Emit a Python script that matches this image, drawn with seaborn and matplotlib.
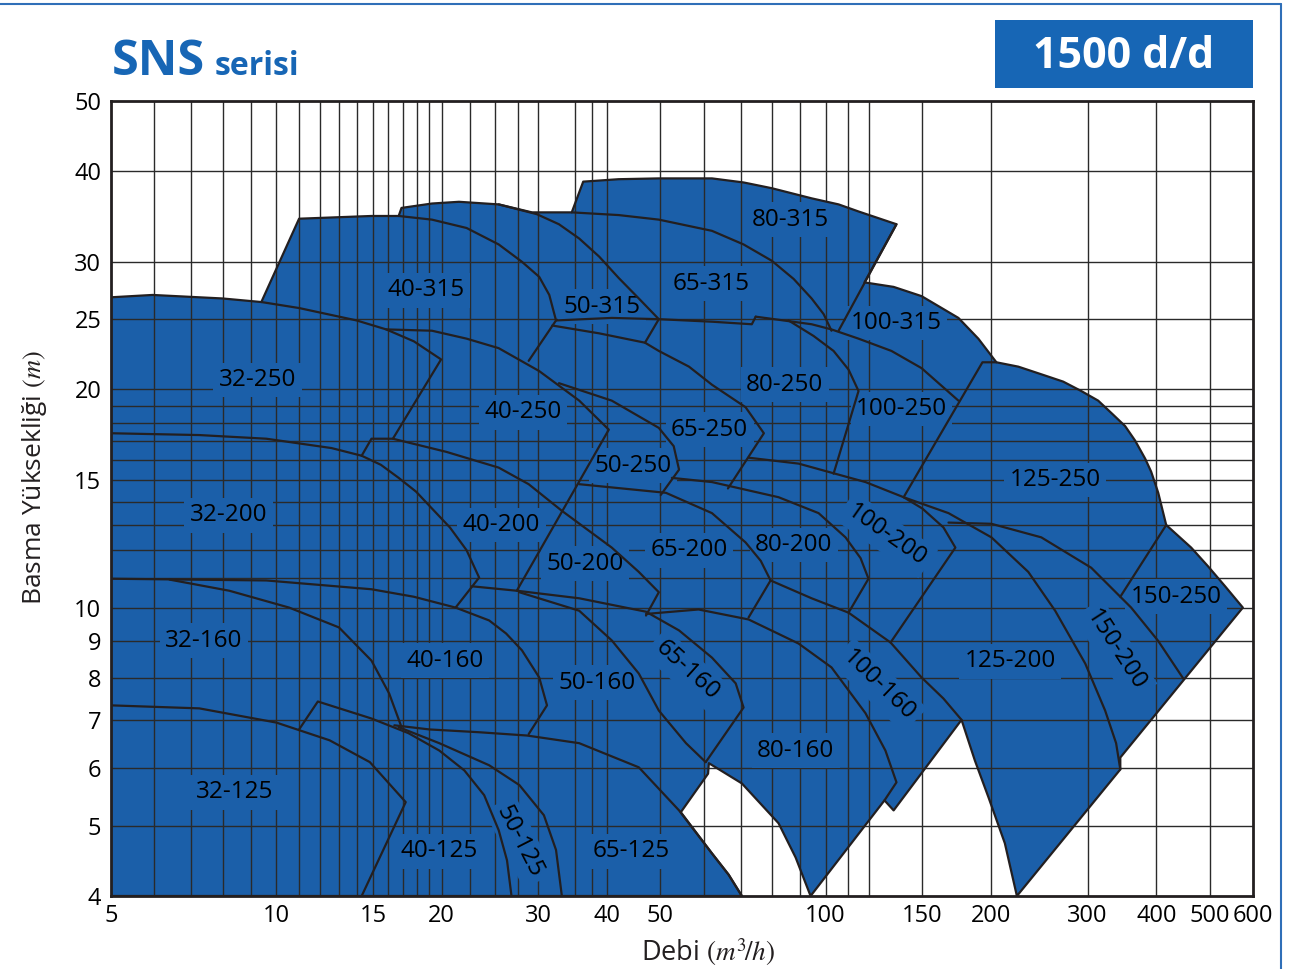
import matplotlib
matplotlib.use("Agg")
import matplotlib.pyplot as plt
import seaborn as sns
import pandas as pd
from matplotlib.ticker import NullLocator
from matplotlib.patches import Rectangle
from matplotlib.lines import Line2D

sns.set_theme(style="white")
plt.rcParams['font.family'] = ['Open Sans', 'DejaVu Sans']
plt.rcParams['mathtext.fontset'] = 'stix'

# ---------------- data ----------------
grid_q = [6, 7, 8, 9, 10, 11, 12, 13, 14, 15, 16, 17, 18, 19, 20, 22.5, 25, 27.5, 30, 35, 37.5,
          40, 50, 60, 70, 80, 90, 100, 110, 120, 150, 200, 300, 400, 500]
grid_h = [5, 6, 7, 8, 9, 10, 11, 12, 13, 14, 15, 16, 17, 18, 19, 20, 25, 30, 40]
xtick_vals = [5, 10, 15, 20, 30, 40, 50, 100, 150, 200, 300, 400, 500, 600]
ytick_vals = [4, 5, 6, 7, 8, 9, 10, 15, 20, 25, 30, 40, 50]

# outer boundary of the covered field (Q m3/h, H m)
envelope = [(5.0, 4.0), (5.0, 26.8), (5.95, 27.0), (7.98, 26.7), (9.39, 26.4), (11.0, 34.4),
            (14.9, 34.7), (16.7, 34.7), (16.9, 35.6), (19.2, 36.1), (21.5, 36.3), (25.4, 36.0),
            (29.2, 35.1), (34.5, 35.1), (36.2, 38.7), (42.0, 39.0), (49.7, 39.1), (62.1, 39.1),
            (70.9, 38.6), (79.8, 37.9), (94.3, 36.7), (105.6, 36.0), (114.8, 35.2), (134.6, 33.8),
            (117.7, 28.1), (133, 27.7), (149.5, 26.9), (174.5, 25.1), (189.7, 23.5),
            (204.6, 21.8), (224.3, 21.5), (251, 20.9), (270.8, 20.5), (292, 19.9), (313.5, 19.3),
            (334, 18.45), (351, 17.8), (366, 17.0), (381.8, 16.05), (391.5, 15.4), (403.3, 14.4),
            (417, 13.0), (463, 12.1), (497, 11.4), (533.8, 10.7), (575, 10.0), (344, 6.21),
            (344, 5.98), (223, 4.0), (212, 4.73), (198, 5.47), (187, 6.15), (176.8, 7.0),
            (133, 5.25), (128, 5.42), (93.9, 4.0), (88.2, 4.52), (82.1, 5.04), (70.4, 5.72),
            (61.3, 6.10), (61.1, 5.90), (54.5, 5.22), (62.1, 4.58), (66.6, 4.28), (70.4, 4.0),
            (5.0, 4.0)]

c_32_250 = [(9.39, 26.4), (11.0, 25.9), (14.0, 24.9), (15.85, 24.2), (17.8, 23.3), (19.95, 22.0),
            (16.3, 17.1)]
c_40_250 = [(15.85, 24.2), (19.2, 24.1), (22.2, 23.5), (25.4, 22.8), (30.1, 21.2), (35.6, 19.3),
            (40.3, 17.6), (27.4, 10.55)]
c_32_200 = [(5.0, 17.4), (7.24, 17.3), (9.59, 17.1), (12.6, 16.6), (14.3, 16.2), (15.5, 15.74),
            (16.7, 15.1), (17.97, 14.45), (19.2, 13.7), (20.7, 12.9), (22.2, 12.0), (23.4, 11.0),
            (21.2, 10.0)]
c_40_200 = [(14.3, 16.2), (14.9, 17.1), (16.3, 17.1), (20.4, 16.4), (25.4, 15.6), (28.8, 14.8),
            (33.1, 13.6), (40.8, 12.1), (45.7, 11.2), (49.7, 10.5), (47.1, 9.75)]
c_40_160 = [(5.0, 10.96), (9.59, 10.9), (14.9, 10.6), (17.8, 10.35), (21.2, 10.0), (24.4, 9.6),
            (26.2, 9.21), (28.0, 8.73), (30.1, 8.01), (31.1, 7.33), (28.8, 6.69)]
c_32_160 = [(6.39, 10.93), (8.21, 10.55), (10.55, 10.0), (13.0, 9.39), (14.9, 8.45),
            (16.05, 7.61), (16.9, 6.84)]
c_32_125 = [(5.0, 7.33), (7.24, 7.26), (10.0, 6.94), (12.5, 6.56), (14.8, 6.12), (17.2, 5.39),
            (14.3, 4.0)]
c_40_125 = [(11.0, 6.79), (11.9, 7.42), (14.9, 7.03), (17.4, 6.71), (19.8, 6.35), (22.0, 5.96),
            (23.9, 5.51), (25.4, 4.93), (26.3, 4.48), (26.8, 4.0)]
c_50_125 = [(16.7, 6.84), (19.8, 6.50), (24.4, 6.06), (27.7, 5.69), (30.7, 5.17), (32.3, 4.63),
            (33.1, 4.0)]
c_65_125 = [(16.4, 6.88), (19.0, 6.79), (23.4, 6.73), (28.6, 6.66), (35.6, 6.50), (45.7, 6.02),
            (54.1, 5.25), (62.1, 4.58), (66.6, 4.28), (70.4, 4.0)]
c_65_160 = [(22.7, 10.7), (27.4, 10.55), (35.6, 10.3), (47.1, 9.87), (54.1, 9.30), (62.1, 8.53),
            (68.6, 7.86), (70.9, 7.28), (60.5, 6.12)]
c_50_160 = [(27.7, 10.5), (35.6, 9.9), (40.8, 9.01), (45.7, 8.11), (49.7, 7.21), (55.7, 6.50),
            (60.5, 6.12)]
c_50_250 = [(32.7, 20.4), (40.8, 19.3), (49.7, 17.7), (52.9, 16.7), (54.1, 15.5), (50.1, 14.3)]
c_65_250 = [(31.8, 24.5), (38.7, 23.9), (46.9, 23.2), (49.7, 22.6), (56.4, 21.5), (62.1, 20.3),
            (71.5, 18.9), (77.2, 17.4), (66.4, 14.6)]
c_40_315 = [(16.7, 34.7), (19.2, 34.3), (22.2, 33.4), (25.4, 31.7), (28.0, 30.0), (30.1, 28.6),
            (31.4, 27.0), (32.3, 24.9), (28.8, 21.9)]
c_50_315 = [(25.4, 36.0), (29.8, 34.9), (32.7, 33.8), (35.6, 32.3), (38.7, 30.5), (42.0, 28.5),
            (45.7, 26.7), (49.7, 25.0), (46.9, 23.2)]
c_50_315_low = [(32.3, 24.9), (40.8, 25.1), (49.7, 25.0), (62.1, 24.8), (73.4, 24.6), (74.6, 25.2)]
c_65_315 = [(34.5, 35.1), (42.0, 34.8), (49.7, 34.3), (62.1, 33.1), (70.9, 31.7), (79.8, 30.1),
            (87.5, 28.4), (94.3, 26.7), (99.2, 25.4), (102.5, 24.1)]
c_80_315 = [(134.6, 33.8), (105.6, 24.1)]
c_100_250 = [(74.6, 25.2), (94.3, 24.6), (102.5, 24.2), (114.8, 23.5), (131.8, 22.6),
             (149.5, 21.4), (174.5, 19.3)]
c_125_250 = [(204.6, 21.8), (193, 21.8), (138.7, 14.2)]
c_80_250 = [(85.6, 24.9), (95.1, 23.7), (103.4, 22.6), (110.1, 21.3), (114.8, 19.9), (103.4, 15.3)]
c_65_200 = [(35.6, 14.8), (51.2, 14.4), (62.1, 13.5), (71.5, 12.3), (76.2, 11.6), (79.4, 10.9),
            (72.4, 9.69)]
c_80_200 = [(52.5, 15.1), (62.1, 14.9), (82.1, 14.2), (97.1, 13.5), (108.7, 12.5), (115.8, 11.7),
            (119.7, 10.96), (110.1, 9.84)]
c_125_200 = [(72.4, 16.1), (89.3, 15.8), (118.2, 14.9), (138.7, 14.2), (167.4, 13.5),
             (200.4, 12.5), (233.9, 11.2), (261.8, 9.9), (297, 8.37), (322.8, 7.21), (338, 6.50),
             (344, 5.98)]
c_100_200 = [(138.7, 14.2), (150, 13.7), (163.9, 12.9), (172.3, 12.1), (131.3, 8.95)]
c_100_160 = [(79.4, 10.9), (94.3, 10.3), (110.1, 9.84), (131.3, 8.95), (149.5, 8.01),
             (163.9, 7.49), (176.8, 7.0)]
c_80_160 = [(47.1, 9.8), (58.7, 9.94), (72.4, 9.63), (89.3, 8.92), (102.5, 8.27), (118.2, 7.15),
            (128.5, 6.35), (134.6, 5.74), (128, 5.42)]
c_150_200 = [(167.4, 13.1), (200.4, 13.05), (247, 12.5), (304.5, 11.35), (360, 10.0), (403, 9.0),
             (448, 7.98)]
c_150_250 = [(417, 13.0), (344, 10.35)]

label_names = ["32-250", "40-315", "50-315", "65-315", "80-315", "100-315", "40-250", "80-250",
               "100-250", "65-250", "50-250", "125-250", "32-200", "40-200", "50-200", "65-200",
               "80-200", "100-200", "150-250", "32-160", "40-160", "50-160", "65-160", "100-160",
               "80-160", "125-200", "150-200", "32-125", "40-125", "50-125", "65-125"]
label_q = [9.24, 18.7, 39.2, 61.8, 86.4, 134.6, 28.1, 84.2, 137.5, 61.5, 44.6, 262, 8.18, 25.7,
           36.5, 56.4, 87.5, 129.1, 434.6, 7.37, 20.3, 38.4, 55.9, 124.9, 88.2, 217, 336.8, 8.39,
           19.8, 27.7, 44.2]
label_h = [20.6, 27.4, 26.0, 28.0, 34.3, 24.7, 18.6, 20.3, 18.8, 17.6, 15.7, 15.0, 13.4, 13.0,
           11.5, 12.0, 12.2, 12.6, 10.35, 9.0, 8.45, 7.88, 8.19, 7.81, 6.35, 8.43, 8.73, 5.56,
           4.61, 4.75, 4.61]
label_rot = [0, 0, 0, 0, 0, 0, 0, 0, 0, 0, 0, 0, 0, 0, 0, 0, 0, -35, 0, 0, 0, 0, -42, -44, 0, 0,
             -57, 0, 0, -63, 0]

curves = {"envelope": envelope, "32-250": c_32_250, "40-250": c_40_250, "32-200": c_32_200,
          "40-200": c_40_200, "40-160": c_40_160, "32-160": c_32_160, "32-125": c_32_125,
          "40-125": c_40_125, "50-125": c_50_125, "65-125": c_65_125, "65-160": c_65_160,
          "50-160": c_50_160, "50-250": c_50_250, "65-250": c_65_250, "40-315": c_40_315,
          "50-315": c_50_315, "50-315b": c_50_315_low, "65-315": c_65_315, "80-315": c_80_315,
          "100-250": c_100_250, "125-250": c_125_250, "80-250": c_80_250, "65-200": c_65_200,
          "80-200": c_80_200, "125-200": c_125_200, "100-200": c_100_200, "100-160": c_100_160,
          "80-160": c_80_160, "150-200": c_150_200, "150-250": c_150_250}

# ---------------- styling ----------------
BLUE = "#1b5fa9"
TITLE_BLUE = "#1766b5"
LINE = "#231f20"
GRID = "#2a2a2a"

W, H = 1291, 969
fig = plt.figure(figsize=(W / 100, H / 100), dpi=100)
ax = fig.add_axes([111 / W, (H - 896) / H, (1253 - 111) / W, (896 - 101) / H])
ax.set_xscale('log')
ax.set_yscale('log')
ax.set_xlim(5, 600)
ax.set_ylim(4, 50)

# blue field
field = ax.fill([p[0] for p in envelope], [p[1] for p in envelope], color=BLUE, lw=0,
                zorder=1)[0]

# grid
ax.vlines(grid_q, 4, 50, colors=GRID, lw=1.0, zorder=2)
ax.hlines(grid_h, 5, 600, colors=GRID, lw=1.0, zorder=2)

# pump curves via seaborn
rows = []
for name, pts in curves.items():
    for i, (q, h) in enumerate(pts):
        rows.append({"curve": name, "order": i, "Q": q, "H": h})
df = pd.DataFrame(rows)
sns.lineplot(data=df, x="Q", y="H", units="curve", estimator=None, sort=False,
             color=LINE, lw=1.6, ax=ax, legend=False, zorder=4,
             solid_joinstyle='round', solid_capstyle='round')

# labels (boxes clipped to the blue field)
for name, q, h, r in zip(label_names, label_q, label_h, label_rot):
    t = ax.text(q, h, name, ha='center', va='center', rotation=r, rotation_mode='anchor',
                fontsize=17.5, color='black', zorder=3, clip_on=True,
                bbox=dict(boxstyle='square,pad=0.22', fc=BLUE, ec='none'))
    t.set_clip_path(field)

# axes
ax.set_xticks(xtick_vals)
ax.set_xticklabels([str(v) for v in xtick_vals])
ax.set_yticks(ytick_vals)
ax.set_yticklabels([str(v) for v in ytick_vals])
ax.xaxis.set_minor_locator(NullLocator())
ax.yaxis.set_minor_locator(NullLocator())
ax.tick_params(axis='both', length=0, labelsize=17, colors='black')
ax.tick_params(axis='x', pad=6)
ax.tick_params(axis='y', pad=7)
ax.set_xlabel("")
ax.set_ylabel("")
for s in ax.spines.values():
    s.set_color(LINE)
    s.set_linewidth(2.0)
    s.set_zorder(6)

fig.text(708 / W, 1 - 952 / H, r"Debi $(m^3\!/h)$", ha='center', va='center', fontsize=19.5,
         color='#231f20')
fig.text(35 / W, 1 - 478 / H, r"Basma Yüksekliği $(m)$", ha='center', va='center',
         rotation=90, fontsize=19, color='#231f20')

# header
fig.text(112 / W, 1 - 75 / H, "SNS", fontsize=35, fontweight='bold', color=TITLE_BLUE,
         ha='left', va='baseline')
fig.text(215 / W, 1 - 75 / H, "serisi", fontsize=23, fontweight='bold', color=TITLE_BLUE,
         ha='left', va='baseline')
fig.patches.append(Rectangle((995 / W, (H - 88) / H), (1253 - 995) / W, 68 / H,
                             transform=fig.transFigure, fc=TITLE_BLUE, ec='none'))
fig.text(1124 / W, 1 - 57 / H, "1500 d/d", fontsize=31, fontweight='bold', color='white',
         ha='center', va='center')

# page frame
fig.lines.append(Line2D([0, 1281 / W], [1 - 4 / H, 1 - 4 / H], transform=fig.transFigure,
                        color="#2f6fb8", lw=1.5))
fig.lines.append(Line2D([1281 / W, 1281 / W], [0, 1 - 4 / H], transform=fig.transFigure,
                        color="#2f6fb8", lw=1.5))

fig.savefig("out.png", dpi=100)
